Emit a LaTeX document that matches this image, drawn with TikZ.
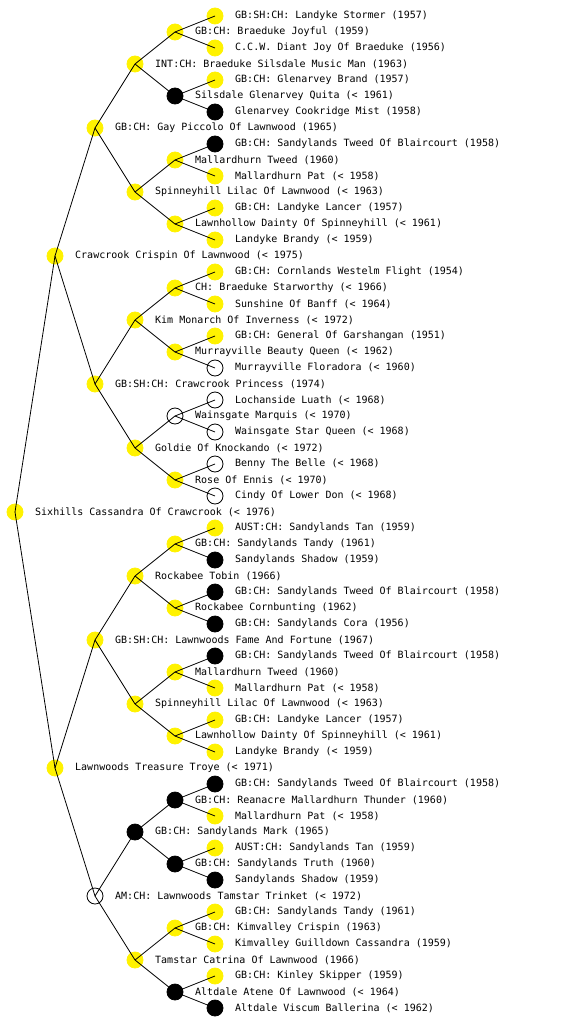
\documentclass[tikz,border=0pt]{standalone}
\usepackage{fontspec}
\setmonofont{DejaVu Sans Mono}
\colorlet{Yf}{yellow}\colorlet{Yo}{yellow}
\colorlet{Bf}{black}\colorlet{Bo}{black}
\colorlet{Wf}{white}\colorlet{Wo}{black}
\tikzset{
  dot/.style={circle, minimum size=16pt, inner sep=0pt, line width=0.8pt, fill=#1f, draw=#1o},
  lab/.style={font=\ttfamily\fontsize{10}{12}\selectfont, inner sep=0pt, anchor=west},
  edge/.style={line width=0.8pt, black}
}
\begin{document}
\begin{tikzpicture}[x=1pt,y=-1pt]
\useasboundingbox (0,0) rectangle (560,1024);
\foreach \r/\d/\t/\l in {
0/5/Y/{GB:SH:CH: Landyke Stormer (1957)},
1/4/Y/{GB:CH: Braeduke Joyful (1959)},
2/5/Y/{C.C.W. Diant Joy Of Braeduke (1956)},
3/3/Y/{INT:CH: Braeduke Silsdale Music Man (1963)},
4/5/Y/{GB:CH: Glenarvey Brand (1957)},
5/4/B/{Silsdale Glenarvey Quita (< 1961)},
6/5/B/{Glenarvey Cookridge Mist (1958)},
7/2/Y/{GB:CH: Gay Piccolo Of Lawnwood (1965)},
8/5/B/{GB:CH: Sandylands Tweed Of Blaircourt (1958)},
9/4/Y/{Mallardhurn Tweed (1960)},
10/5/Y/{Mallardhurn Pat (< 1958)},
11/3/Y/{Spinneyhill Lilac Of Lawnwood (< 1963)},
12/5/Y/{GB:CH: Landyke Lancer (1957)},
13/4/Y/{Lawnhollow Dainty Of Spinneyhill (< 1961)},
14/5/Y/{Landyke Brandy (< 1959)},
15/1/Y/{Crawcrook Crispin Of Lawnwood (< 1975)},
16/5/Y/{GB:CH: Cornlands Westelm Flight (1954)},
17/4/Y/{CH: Braeduke Starworthy (< 1966)},
18/5/Y/{Sunshine Of Banff (< 1964)},
19/3/Y/{Kim Monarch Of Inverness (< 1972)},
20/5/Y/{GB:CH: General Of Garshangan (1951)},
21/4/Y/{Murrayville Beauty Queen (< 1962)},
22/5/W/{Murrayville Floradora (< 1960)},
23/2/Y/{GB:SH:CH: Crawcrook Princess (1974)},
24/5/W/{Lochanside Luath (< 1968)},
25/4/W/{Wainsgate Marquis (< 1970)},
26/5/W/{Wainsgate Star Queen (< 1968)},
27/3/Y/{Goldie Of Knockando (< 1972)},
28/5/W/{Benny The Belle (< 1968)},
29/4/Y/{Rose Of Ennis (< 1970)},
30/5/W/{Cindy Of Lower Don (< 1968)},
31/0/Y/{Sixhills Cassandra Of Crawcrook (< 1976)},
32/5/Y/{AUST:CH: Sandylands Tan (1959)},
33/4/Y/{GB:CH: Sandylands Tandy (1961)},
34/5/B/{Sandylands Shadow (1959)},
35/3/Y/{Rockabee Tobin (1966)},
36/5/B/{GB:CH: Sandylands Tweed Of Blaircourt (1958)},
37/4/Y/{Rockabee Cornbunting (1962)},
38/5/B/{GB:CH: Sandylands Cora (1956)},
39/2/Y/{GB:SH:CH: Lawnwoods Fame And Fortune (1967)},
40/5/B/{GB:CH: Sandylands Tweed Of Blaircourt (1958)},
41/4/Y/{Mallardhurn Tweed (1960)},
42/5/Y/{Mallardhurn Pat (< 1958)},
43/3/Y/{Spinneyhill Lilac Of Lawnwood (< 1963)},
44/5/Y/{GB:CH: Landyke Lancer (1957)},
45/4/Y/{Lawnhollow Dainty Of Spinneyhill (< 1961)},
46/5/Y/{Landyke Brandy (< 1959)},
47/1/Y/{Lawnwoods Treasure Troye (< 1971)},
48/5/B/{GB:CH: Sandylands Tweed Of Blaircourt (1958)},
49/4/B/{GB:CH: Reanacre Mallardhurn Thunder (1960)},
50/5/Y/{Mallardhurn Pat (< 1958)},
51/3/B/{GB:CH: Sandylands Mark (1965)},
52/5/Y/{AUST:CH: Sandylands Tan (1959)},
53/4/B/{GB:CH: Sandylands Truth (1960)},
54/5/B/{Sandylands Shadow (1959)},
55/2/W/{AM:CH: Lawnwoods Tamstar Trinket (< 1972)},
56/5/Y/{GB:CH: Sandylands Tandy (1961)},
57/4/Y/{GB:CH: Kimvalley Crispin (1963)},
58/5/Y/{Kimvalley Guilldown Cassandra (1959)},
59/3/Y/{Tamstar Catrina Of Lawnwood (1966)},
60/5/Y/{GB:CH: Kinley Skipper (1959)},
61/4/B/{Altdale Atene Of Lawnwood (< 1964)},
62/5/B/{Altdale Viscum Ballerina (< 1962)}}
{
  \node[dot=\t] (n\r) at ({15+40*\d},{16+16*\r}) {};
  \node[lab] (l\r) at ({35+40*\d},{16+16*\r}) {\l};
}
\foreach \p/\c in {31/15,31/47,
  15/7,15/23,47/39,47/55,
  7/3,7/11,23/19,23/27,39/35,39/43,55/51,55/59,
  3/1,3/5,11/9,11/13,19/17,19/21,27/25,27/29,35/33,35/37,43/41,43/45,51/49,51/53,59/57,59/61,
  1/0,1/2,5/4,5/6,9/8,9/10,13/12,13/14,17/16,17/18,21/20,21/22,25/24,25/26,29/28,29/30,
  33/32,33/34,37/36,37/38,41/40,41/42,45/44,45/46,49/48,49/50,53/52,53/54,57/56,57/58,61/60,61/62}
{
  \draw[edge] (n\p.center) -- (n\c.center);
}
\end{tikzpicture}
\end{document}
